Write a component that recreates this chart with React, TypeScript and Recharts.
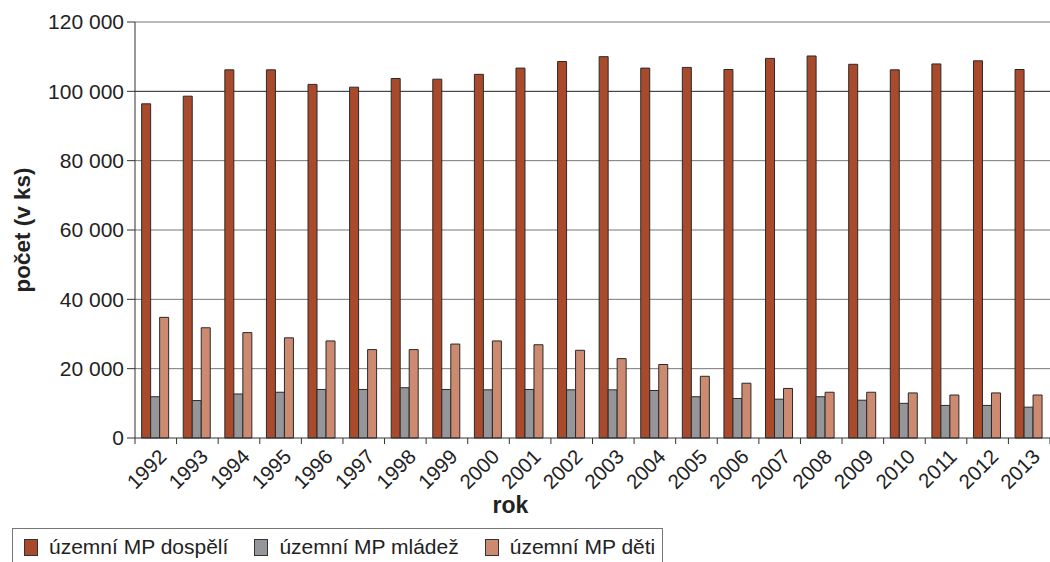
import { Bar, BarChart, CartesianGrid, XAxis, YAxis } from "recharts";

const YEARS = [
  "1992", "1993", "1994", "1995", "1996", "1997", "1998", "1999", "2000", "2001", "2002",
  "2003", "2004", "2005", "2006", "2007", "2008", "2009", "2010", "2011", "2012", "2013",
];
const DOSPELI = [
  96400, 98600, 106200, 106200, 102000, 101200, 103700, 103500, 104900, 106700, 108600,
  110000, 106700, 106900, 106300, 109500, 110200, 107800, 106200, 107900, 108800, 106300,
];
const MLADEZ = [
  11900, 10800, 12700, 13200, 14000, 14000, 14500, 14000, 13900, 14000, 13900,
  13900, 13700, 11900, 11400, 11200, 11900, 10900, 10000, 9400, 9400, 8900,
];
const DETI = [
  34800, 31800, 30400, 28900, 28000, 25500, 25500, 27100, 28000, 26900, 25300,
  22900, 21200, 17800, 15800, 14300, 13200, 13200, 13000, 12400, 13000, 12400,
];
const Y_TICKS = [0, 20000, 40000, 60000, 80000, 100000, 120000];

const SERIES = [
  { key: "dospeli", name: "územní MP dospělí", color: "#a84a2b" },
  { key: "mladez", name: "územní MP mládež", color: "#95969a" },
  { key: "deti", name: "územní MP děti", color: "#cc8b70" },
];

const FONT = '"Liberation Sans", Arial, Helvetica, sans-serif';
const INK = "#222";

const rows = YEARS.map((year, i) => ({
  year,
  dospeli: DOSPELI[i],
  mladez: MLADEZ[i],
  deti: DETI[i],
}));

// mezera jako oddělovač tisíců: 120 000
const fmt = (v: number) => String(v).replace(/\B(?=(\d{3})+(?!\d))/g, " ");

function YearTick(props: any) {
  const { x, y, payload, index } = props;
  const half = payload.offset ?? 0;
  const tx = x + 12;
  const ty = y + 20;
  return (
    <g>
      <line x1={x - half} x2={x - half} y1={y} y2={y + 6} stroke="#333" />
      {index === YEARS.length - 1 && (
        <line x1={x + half} x2={x + half} y1={y} y2={y + 6} stroke="#333" />
      )}
      <text
        x={tx}
        y={ty}
        transform={`rotate(-45, ${tx}, ${ty})`}
        textAnchor="end"
        fontSize={20.5}
        fontFamily={FONT}
        fill={INK}
      >
        {payload.value}
      </text>
    </g>
  );
}

function LegendBox() {
  return (
    <div
      style={{
        position: "absolute",
        left: 12,
        top: 528,
        width: 651,
        height: 40,
        border: "1px solid #777",
        boxSizing: "border-box",
        display: "flex",
        alignItems: "flex-start",
        paddingTop: 8,
        paddingLeft: 11,
        fontFamily: FONT,
        fontSize: 21,
        color: INK,
      }}
    >
      {SERIES.map((s) => (
        <div key={s.key} style={{ display: "flex", alignItems: "center", marginRight: 26 }}>
          <span
            style={{
              display: "inline-block",
              width: 14,
              height: 17,
              background: s.color,
              border: "1px solid #333",
              boxSizing: "border-box",
              marginRight: 11,
            }}
          />
          <span style={{ lineHeight: "20px", whiteSpace: "nowrap" }}>{s.name}</span>
        </div>
      ))}
    </div>
  );
}

export default function App() {
  return (
    <div style={{ position: "absolute", left: 0, top: 0, width: 1050, height: 562, background: "#fff" }}>
      <BarChart
        width={1050}
        height={562}
        data={rows}
        margin={{ top: 22, right: 0, bottom: 0, left: 0 }}
        barCategoryGap="16%"
        barGap={0}
      >
        <CartesianGrid vertical={false} stroke="#777" horizontalValues={[20000, 40000, 60000, 80000, 120000]} />
        <CartesianGrid vertical={false} stroke="#222" horizontalValues={[100000]} />
        <XAxis
          dataKey="year"
          height={124}
          interval={0}
          tickLine={false}
          tickSize={0}
          tickMargin={0}
          stroke="#333"
          tick={<YearTick />}
          label={{
            value: "rok",
            position: "insideBottom",
            offset: 49,
            dx: -82,
            fill: INK,
            fontSize: 23,
            fontWeight: "bold",
            fontFamily: FONT,
          }}
        />
        <YAxis
          width={135}
          domain={[0, 120000]}
          ticks={Y_TICKS}
          tickFormatter={fmt}
          tickSize={8}
          tickMargin={3}
          stroke="#333"
          tick={{ fill: INK, fontSize: 21, fontFamily: FONT }}
          label={{
            value: "počet (v ks)",
            angle: -90,
            position: "center",
            dx: -45,
            fill: INK,
            fontSize: 22.5,
            fontWeight: "bold",
            fontFamily: FONT,
          }}
        />
        {SERIES.map((s) => (
          <Bar
            key={s.key}
            dataKey={s.key}
            name={s.name}
            fill={s.color}
            stroke="#2a2a2a"
            strokeWidth={1}
            isAnimationActive={false}
          />
        ))}
      </BarChart>
      <LegendBox />
    </div>
  );
}
